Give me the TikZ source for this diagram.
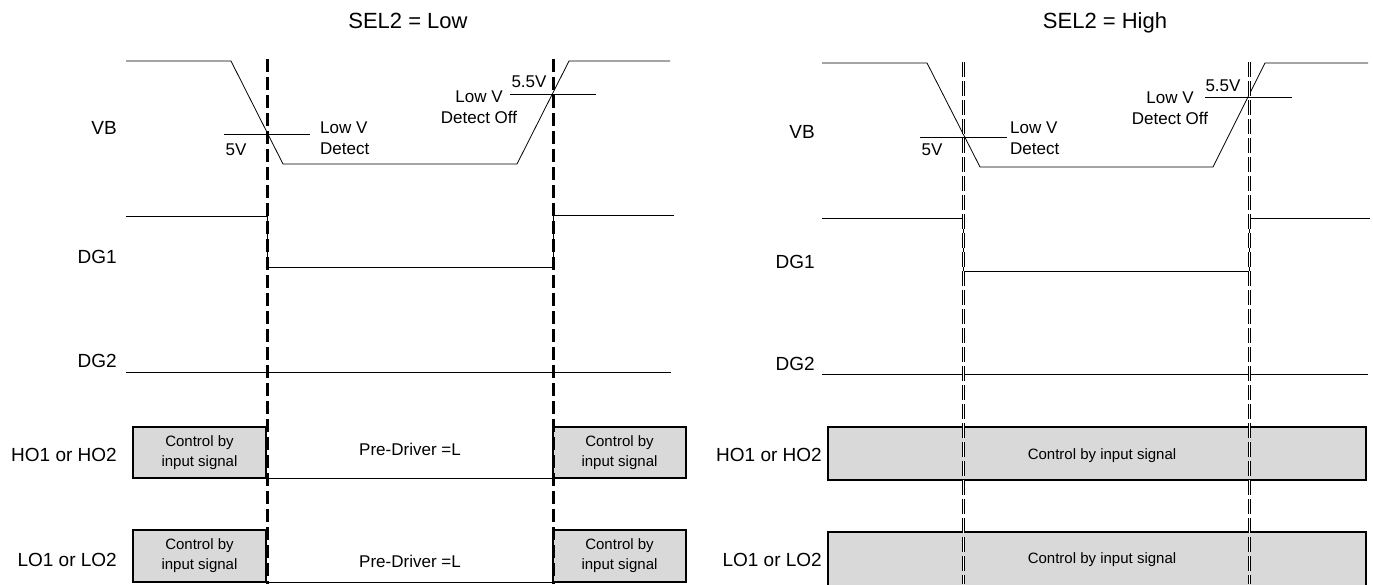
\documentclass[tikz,border=0pt]{standalone}
\usepackage{fontspec}
\setmainfont{Liberation Sans}
\usepackage{tikz}
\definecolor{boxgray}{HTML}{D9D9D9}
\tikzset{
  wave/.style    = {line width=0.8pt},
  cutline/.style = {line width=3pt,dash pattern=on 13pt off 5pt},
  cutdbl/.style  = {line width=3pt,dash pattern=on 15pt off 4pt,
                    postaction={draw=white,line width=0.3pt,dash pattern=on 15pt off 4pt}},
  ctrlbox/.style = {draw,fill=boxgray,line width=1.3pt,inner sep=0pt},
  sig/.style     = {anchor=east,inner sep=0pt,font=\fontsize{19}{21}\selectfont},
  note/.style    = {inner sep=0pt,font=\fontsize{17}{21}\selectfont},
  ttl/.style     = {anchor=base,inner sep=0pt,font=\fontsize{22}{24}\selectfont},
  boxtxt/.style  = {align=center,font=\fontsize{15}{20}\selectfont}
}
\newcommand{\sigrow}[6]{%
  \node[sig] (vb#1)  at (#2,#3) {VB};
  \node[sig] (dga#1) at (#2,#4) {DG1};
  \node[sig] (dgb#1) at (#2,#5) {DG2};
  \node[sig] (ho#1)  at (#2+#6,455) {HO1 or HO2};
  \node[sig] (lo#1)  at (#2+#6,560) {LO1 or LO2};
}

\begin{document}
\begin{tikzpicture}[x=1pt,y=-1pt]
  \useasboundingbox (0,0) rectangle (1373,584);
  \node[ttl] (ttlow)  at (408,28) {SEL2 = Low};
  \node[ttl] (ttlhigh) at (1105,28) {SEL2 = High};
  \sigrow{l}{117}{128}{257}{361}{0}
  \sigrow{r}{815}{132}{262}{364}{7}

  \draw[wave] (126,61) -- (231,61) -- (283,164) -- (517,164) -- (569,61) -- (670,61);
  \draw[wave] (224,134) -- (310,134);
  \draw[wave] (510,94) -- (596,94);
  \node[note] (fvl) at (236,150) {5V};
  \node[note,anchor=west,align=left] (detl) at (320,138) {Low V\\Detect};
  \node[note] (ffvl) at (529,82) {5.5V};
  \node[note,align=center] (offl) at (479,107) {Low V\\Detect Off};
  \draw[wave] (126,216) -- (267,216) -- (267,267) -- (553,267) -- (553,215) -- (674,215);
  \draw[wave] (126,372) -- (671,372);
  \node[ctrlbox,minimum width=133,minimum height=51] (hla) at (199.5,452.5) {};
  \node[ctrlbox,minimum width=133,minimum height=51] (hlb) at (619.5,452.5) {};
  \node[ctrlbox,minimum width=133,minimum height=52] (lla) at (199.5,556) {};
  \node[ctrlbox,minimum width=133,minimum height=52] (llb) at (619.5,556) {};
  \node[boxtxt] (thla) at (hla) {Control by\\input signal};
  \node[boxtxt] (thlb) at (hlb) {Control by\\input signal};
  \node[boxtxt] (tlla) at (lla) {Control by\\input signal};
  \node[boxtxt] (tllb) at (llb) {Control by\\input signal};
  \draw[wave] (hla.south east) -- (hlb.south west);
  \draw[wave] (lla.south east) -- (llb.south west);
  \node[note] (pdh) at (410,449) {Pre-Driver =L};
  \node[note] (pdl) at (410,561) {Pre-Driver =L};

  \draw[wave] (822,63) -- (927,63) -- (980,167) -- (1213,167) -- (1265,63) -- (1368,63);
  \draw[wave] (920,137) -- (1007,137);
  \draw[wave] (1205,97) -- (1292,97);
  \node[note] (fvr) at (932,150) {5V};
  \node[note,anchor=west,align=left] (detr) at (1010,138) {Low V\\Detect};
  \node[note] (ffvr) at (1223,86) {5.5V};
  \node[note,align=center] (offr) at (1170,108) {Low V\\Detect Off};
  \draw[wave] (822,218) -- (963,218) -- (963,271) -- (1249,271) -- (1249,218) -- (1370,218);
  \draw[wave] (822,374) -- (1368,374);
  \node[ctrlbox,minimum width=538,minimum height=53] (hr) at (1097,453.5) {};
  \node[ctrlbox,minimum width=538,minimum height=68] (lr) at (1097,566) {};
  \node[boxtxt] (thr) at (1102,456) {Control by input signal};
  \node[boxtxt] (tlr) at (1102,560) {Control by input signal};

  \coordinate (cla) at (267,59);  \coordinate (clb) at (553,59);
  \coordinate (cra) at (963,62);  \coordinate (crb) at (1249,62);
  \draw[cutline] (cla) -- (cla |- 0,584);
  \draw[cutline] (clb) -- (clb |- 0,584);
  \draw[cutdbl] (cra) -- (cra |- 0,584);
  \draw[cutdbl] (crb) -- (crb |- 0,584);
\end{tikzpicture}
\end{document}
